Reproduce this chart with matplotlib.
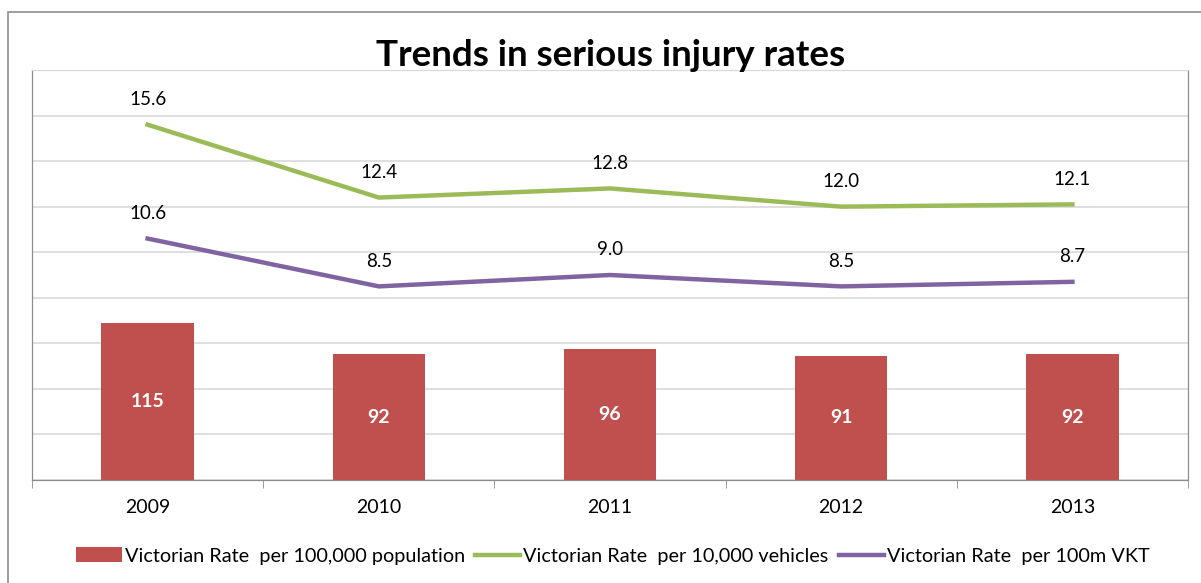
import matplotlib.pyplot as plt
from matplotlib.patches import Rectangle
import numpy as np

plt.rcParams['font.family'] = ['Lato', 'DejaVu Sans']

years = ['2009', '2010', '2011', '2012', '2013']
rate_population = [115, 92, 96, 91, 92]
rate_vehicles = [15.6, 12.4, 12.8, 12.0, 12.1]
rate_vkt = [10.6, 8.5, 9.0, 8.5, 8.7]

W, H = 1201, 583
fig = plt.figure(figsize=(W / 100, H / 100), dpi=100)

# outer chart border (runs off the right and bottom edges)
fig.patches.append(Rectangle((8 / W, -0.1), 1.2, (H - 12) / H + 0.1,
                             transform=fig.transFigure, fill=False,
                             edgecolor='#8c8c8c', linewidth=1.2))

# main axis: lines + gridlines (0-18 scale)
ax = fig.add_axes([32 / W, (H - 480) / H, (1188 - 32) / W, (480 - 70) / H])
x = np.arange(len(years))
l1, = ax.plot(x, rate_vehicles, color='#9BBB59', linewidth=3.2)
l2, = ax.plot(x, rate_vkt, color='#8064A2', linewidth=3.2)
ax.set_xlim(-0.5, len(years) - 0.5)
ax.set_ylim(0, 18)
ax.set_yticks(np.arange(0, 19, 2))
ax.tick_params(axis='y', length=0, labelleft=False)
ax.grid(axis='y', color='#d9d9d9', linewidth=1.2)
ax.set_axisbelow(True)
for series in (rate_vehicles, rate_vkt):
    for xi, v in zip(x, series):
        ax.annotate(f'{v:.1f}', (xi, v), xytext=(0, 12), textcoords='offset points',
                    ha='center', va='bottom', fontsize=13.5)

ax.set_xticks(x)
ax.set_xticklabels(years, fontsize=14)
ax.set_xticks(np.arange(-0.5, len(years)), minor=True)
ax.tick_params(axis='x', which='major', length=0, pad=14)
ax.tick_params(axis='x', which='minor', length=6, color='#8c8c8c')

# secondary axis: bars (0-300 scale), hidden
ax2 = ax.twinx()
bars = ax2.bar(x, rate_population, width=0.4, color='#C0504D')
ax2.set_ylim(0, 300)
ax2.set_yticks([])
for xi, v in zip(x, rate_population):
    ax2.text(xi, v / 2, str(v), ha='center', va='center', color='white',
             fontsize=14, fontweight='bold')

for a in (ax, ax2):
    for side in ('left', 'right', 'bottom'):
        a.spines[side].set_color('#8c8c8c')
    a.spines['top'].set_color('#d9d9d9')

fig.text(611 / W, 1 - 55 / H, 'Trends in serious injury rates', ha='center',
         va='center', fontsize=26.5, fontweight='bold')

fig.legend([bars, l1, l2],
           ['Victorian Rate  per 100,000 population', 'Victorian Rate  per 10,000 vehicles',
            'Victorian Rate  per 100m VKT'],
           loc='center', bbox_to_anchor=(613 / W, 1 - 556 / H), ncol=3, frameon=False,
           fontsize=14.3, handlelength=2.3, handleheight=0.75, handletextpad=0.15,
           columnspacing=0.5)

fig.savefig('out.png', dpi=100)
